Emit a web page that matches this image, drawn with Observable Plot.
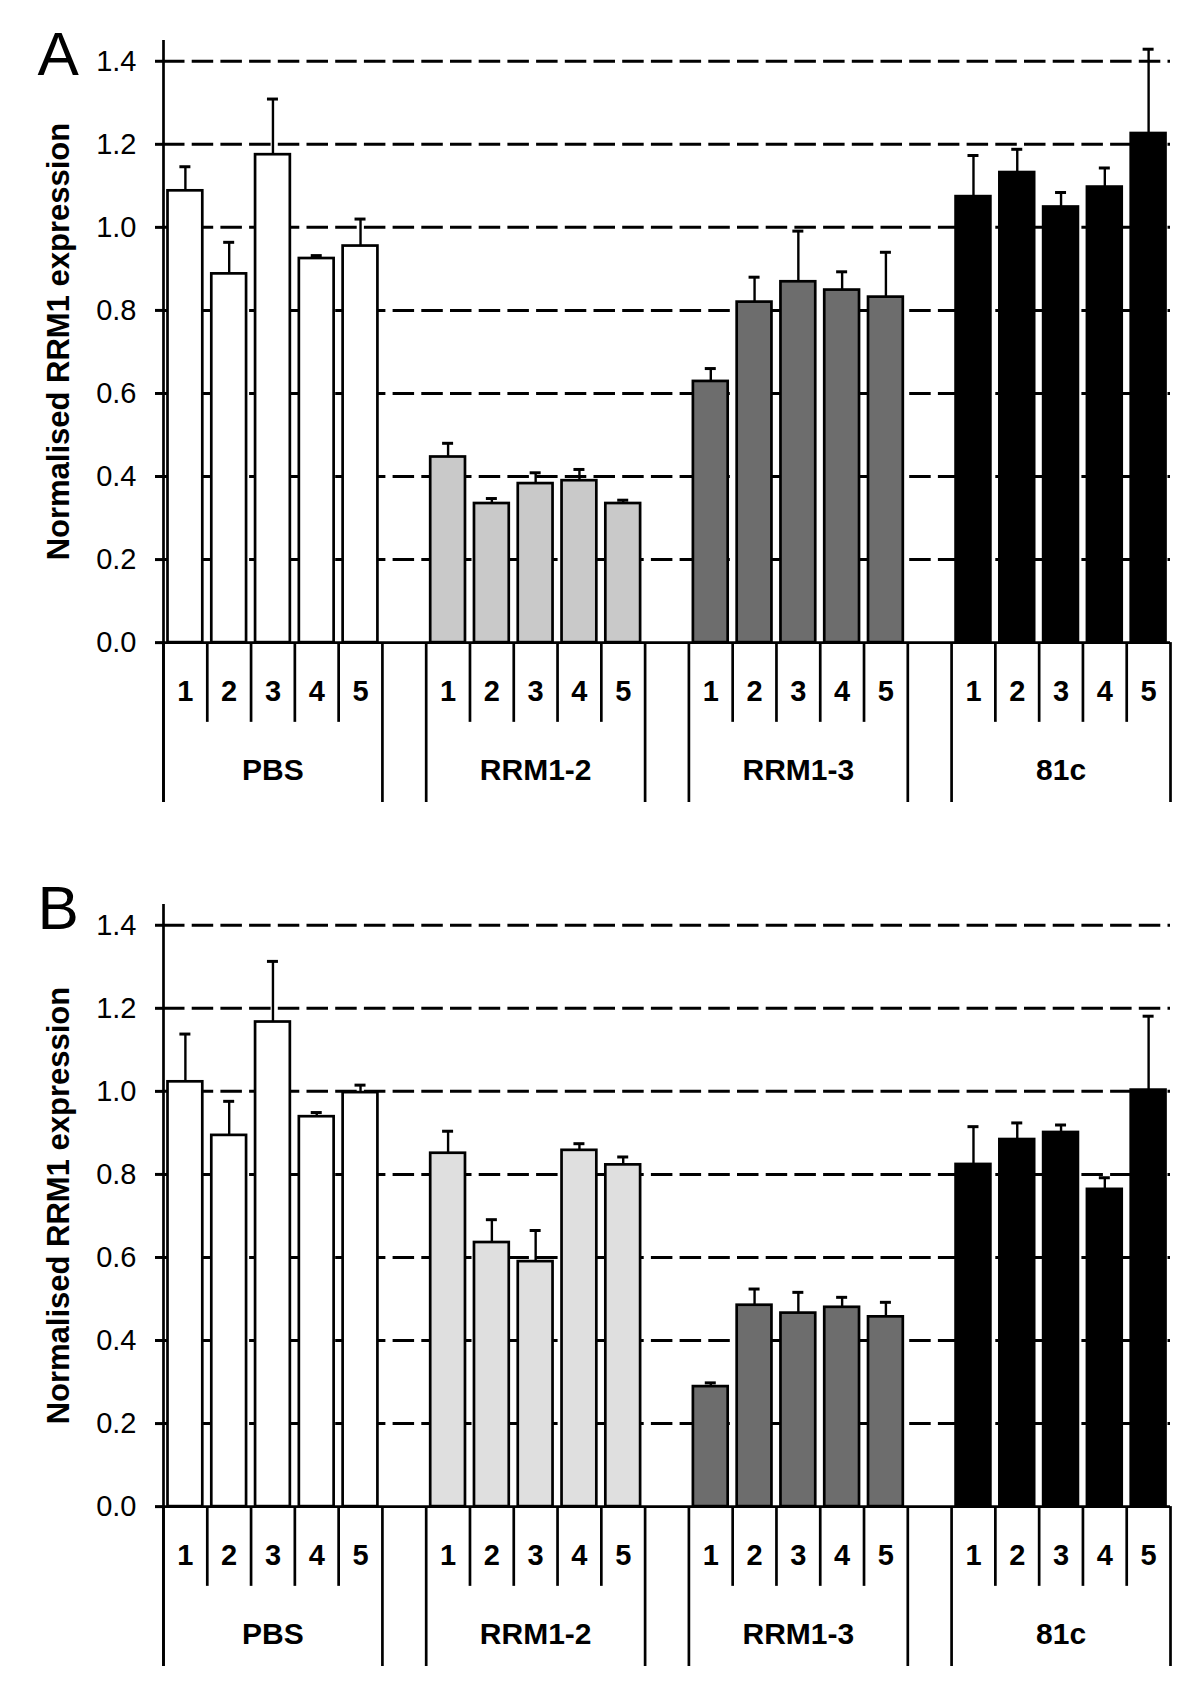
<!DOCTYPE html>
<html><head><meta charset="utf-8">
<script src="https://cdn.jsdelivr.net/npm/d3@7"></script>
<script src="https://cdn.jsdelivr.net/npm/@observablehq/plot@0.6"></script>
<style>
html,body{margin:0;padding:0;background:#fff;}
#chart svg{display:block;}
</style></head><body><div id="chart"></div>
<script>
const groups = ["PBS", "RRM1-2", "RRM1-3", "81c"];
const samples = ["1", "2", "3", "4", "5"];
const yTicks = [0, 0.2, 0.4, 0.6, 0.8, 1.0, 1.2, 1.4];
const panelLabels = ["A", "B"];
const yTitle = "Normalised RRM1 expression";

// Panel A: means and upper error (SD) per group, samples 1-5
const meanA_PBS   = [1.088, 0.888, 1.175, 0.925, 0.955];
const errA_PBS    = [0.058, 0.076, 0.134, 0.007, 0.065];
const meanA_RRM12 = [0.447, 0.335, 0.383, 0.390, 0.335];
const errA_RRM12  = [0.033, 0.012, 0.026, 0.027, 0.008];
const meanA_RRM13 = [0.629, 0.820, 0.869, 0.849, 0.832];
const errA_RRM13  = [0.031, 0.060, 0.122, 0.044, 0.108];
const meanA_81c   = [1.074, 1.132, 1.049, 1.097, 1.226];
const errA_81c    = [0.099, 0.056, 0.035, 0.046, 0.203];

// Panel B
const meanB_PBS   = [1.023, 0.894, 1.167, 0.939, 0.997];
const errB_PBS    = [0.115, 0.082, 0.146, 0.010, 0.018];
const meanB_RRM12 = [0.851, 0.636, 0.590, 0.858, 0.823];
const errB_RRM12  = [0.053, 0.055, 0.075, 0.016, 0.019];
const meanB_RRM13 = [0.289, 0.485, 0.466, 0.480, 0.457];
const errB_RRM13  = [0.009, 0.039, 0.050, 0.024, 0.035];
const meanB_81c   = [0.824, 0.884, 0.901, 0.764, 1.003];
const errB_81c    = [0.091, 0.040, 0.018, 0.028, 0.178];

// styles
const fillsA = ["#ffffff", "#c9c9c9", "#6d6d6d", "#000000"];
const fillsB = ["#ffffff", "#dfdfdf", "#6d6d6d", "#000000"];
const FONT = "'Liberation Sans', Arial, Helvetica, sans-serif";

function panel(letter, means, errs, fills, height, letterDy) {
  const step = samples.length + 1;
  const nCat = groups.length * step - 1;
  const yMax = 1.45, yMin = -0.385, yShort = -0.192;
  const rows = [];
  groups.forEach((g, gi) => samples.forEach((s, si) => rows.push({
    group: g, sample: s, i: gi * step + si,
    value: means[gi][si], err: errs[gi][si], fill: fills[gi]
  })));
  const longLines = [], shortLines = [];
  groups.forEach((g, gi) => {
    longLines.push(gi * step, gi * step + samples.length);
    for (let k = 1; k < samples.length; k++) shortLines.push(gi * step + k);
  });
  const groupCenters = groups.map((g, gi) => ({group: g, x: gi * step + samples.length / 2}));
  return Plot.plot({
    width: 1200, height,
    marginLeft: 163, marginRight: 30, marginTop: 40, marginBottom: height - 802,
    x: {type: "linear", domain: [0, nCat], axis: null},
    y: {domain: [yMin, yMax], axis: null},
    color: {type: "identity"},
    style: {fontFamily: FONT, color: "black", background: "white", overflow: "visible"},
    marks: [
      Plot.ruleY(yTicks.filter(d => d > 0), {x1: 0, x2: nCat, stroke: "black", strokeWidth: 3, strokeDasharray: "21.5,7.2"}),
      Plot.rectY(rows, {x1: "i", x2: d => d.i + 1, y: "value", fill: d => d.fill, stroke: "black", strokeWidth: 2.7, insetLeft: 4.5, insetRight: 4.5}),
      Plot.ruleX(rows, {x: d => d.i + 0.5, y1: "value", y2: d => d.value + d.err, stroke: "black", strokeWidth: 2.4}),
      Plot.ruleY(rows, {y: d => d.value + d.err, x1: d => d.i + 0.5, x2: d => d.i + 0.5, insetLeft: -5.5, insetRight: -5.5, stroke: "black", strokeWidth: 3}),
      Plot.ruleX([0], {y1: yMin, y2: yMax, stroke: "black", strokeWidth: 2.7}),
      Plot.ruleY([0], {x1: 0, x2: nCat, stroke: "black", strokeWidth: 2.7}),
      Plot.ruleX(longLines, {y1: yMin, y2: 0, stroke: "black", strokeWidth: 2.7}),
      Plot.ruleX(shortLines, {y1: yShort, y2: 0, stroke: "black", strokeWidth: 2.7}),
      Plot.axisY(yTicks, {tickSize: 8, tickPadding: 19, tickFormat: d3.format(".1f"), fontSize: 29, label: null, strokeWidth: 3, fill: "black"}),
      Plot.text(rows, {x: d => d.i + 0.5, y: 0, dy: 49, text: "sample", fontWeight: "bold", fontSize: 29, fill: "black"}),
      Plot.text(groupCenters, {x: "x", y: 0, dy: 128, text: "group", fontWeight: "bold", fontSize: 30, fill: "black"}),
      Plot.text([yTitle], {x: 0, y: yMax / 2, text: d => d, dx: -104, rotate: -90, fontWeight: "bold", fontSize: 31, fill: "black"}),
      Plot.text([letter], {frameAnchor: "top-left", text: d => d, dx: -126, dy: letterDy, textAnchor: "start", lineAnchor: "bottom", fontSize: 62, fill: "black"})
    ]
  });
}

const chart = document.getElementById("chart");
chart.append(panel(panelLabels[0],
  [meanA_PBS, meanA_RRM12, meanA_RRM13, meanA_81c],
  [errA_PBS, errA_RRM12, errA_RRM13, errA_81c], fillsA, 864, 34));
chart.append(panel(panelLabels[1],
  [meanB_PBS, meanB_RRM12, meanB_RRM13, meanB_81c],
  [errB_PBS, errB_RRM12, errB_RRM13, errB_81c], fillsB, 818, 24.3));
</script></body></html>
